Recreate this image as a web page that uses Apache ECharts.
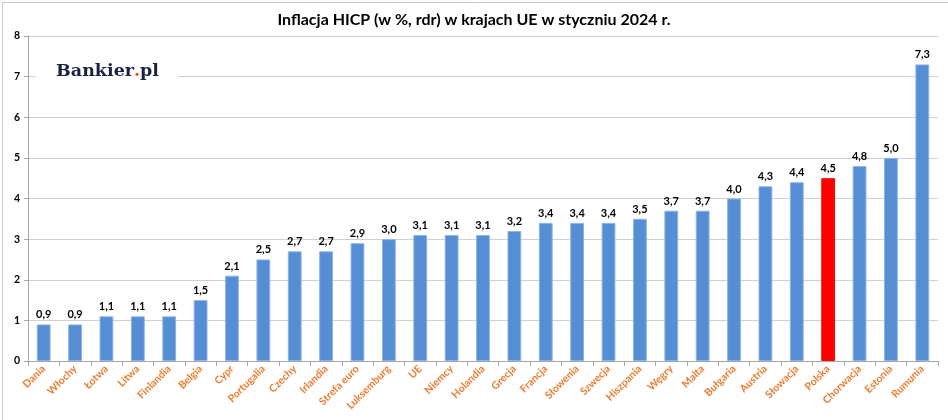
<!DOCTYPE html>
<html><head><meta charset="utf-8">
<script src="https://cdn.jsdelivr.net/npm/echarts@6/dist/echarts.min.js"></script>
<style>html,body{margin:0;padding:0;background:#fff}#c{width:948px;height:420px}</style>
</head><body><div id="c"></div>
<script>
const categories = ['Dania','Włochy','Łotwa','Litwa','Finlandia','Belgia','Cypr','Portugalia','Czechy','Irlandia','Strefa euro','Luksemburg','UE','Niemcy','Holandia','Grecja','Francja','Słowenia','Szwecja','Hiszpania','Węgry','Malta','Bułgaria','Austria','Słowacja','Polska','Chorwacja','Estonia','Rumunia'];
const values = [0.9,0.9,1.1,1.1,1.1,1.5,2.1,2.5,2.7,2.7,2.9,3.0,3.1,3.1,3.1,3.2,3.4,3.4,3.4,3.5,3.7,3.7,4.0,4.3,4.4,4.5,4.8,5.0,7.3];
const highlight = 'Polska';
const titleText = 'Inflacja HICP (w %, rdr) w krajach UE w styczniu 2024 r.';
const FONT = 'Lato, "Open Sans", sans-serif';

const chart = echarts.init(document.getElementById('c'), null, {renderer:'canvas'});
chart.setOption({
  animation:false,
  backgroundColor:'#fff',
  title:{text:titleText,left:'center',top:7,textStyle:{fontFamily:FONT,fontWeight:'bold',fontSize:16,color:'#000'}},
  grid:{left:28,right:10,top:36,bottom:59,containLabel:false},
  xAxis:{type:'category',data:categories,
    axisLine:{lineStyle:{color:'#a6a6a6'}},
    axisTick:{show:true,alignWithLabel:false,length:5,lineStyle:{color:'#a6a6a6'}},
    axisLabel:{rotate:45,interval:0,color:'#ED7D31',fontFamily:FONT,fontWeight:'bold',fontSize:10.5,margin:6}},
  yAxis:{type:'value',min:0,max:8,interval:1,
    axisLine:{show:true,lineStyle:{color:'#a6a6a6'}},
    axisTick:{show:true,length:4,lineStyle:{color:'#a6a6a6'}},
    splitLine:{lineStyle:{color:'#d0d0d0',width:1}},
    axisLabel:{color:'#000',fontFamily:FONT,fontWeight:'bold',fontSize:10.5,margin:8}},
  series:[{type:'bar',barWidth:'44%',
    data:values.map((v,i)=>({value:v,itemStyle:{color:categories[i]===highlight?'#FF0000':'#558ED5',borderColor:categories[i]===highlight?'#FF0000':'#8DB4E2',borderWidth:1}})),
    label:{show:true,position:'top',distance:4,color:'#000',fontFamily:FONT,fontWeight:'bold',fontSize:11,
      formatter:p=>p.value.toFixed(1).replace('.',',')}}],
  graphic:[
    {type:'rect',left:0,top:0,shape:{width:947,height:419},style:{fill:'none',stroke:'#c8c8c8',lineWidth:1},silent:true},
    {type:'rect',left:36,top:66,shape:{width:142,height:24},style:{fill:'#fff'},z:10},
    {type:'text',left:56,top:62,z:11,style:{text:'{a|Bankier}{b|.}{a|pl}',
      rich:{a:{fill:'#1c2340',font:'bold 17.5px "DejaVu Serif", serif'},b:{fill:'#E8501E',font:'bold 17.5px "DejaVu Serif", serif'}}}}
  ]
});
</script></body></html>
